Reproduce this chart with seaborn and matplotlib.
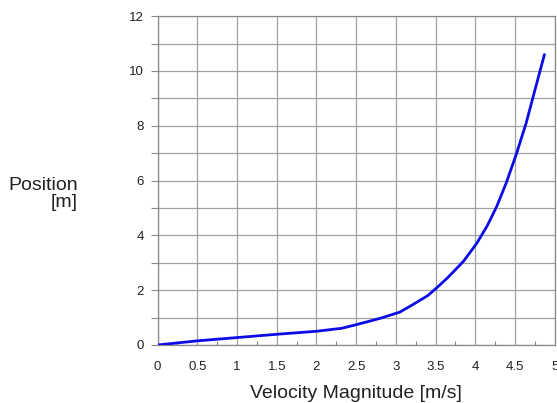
import matplotlib
matplotlib.use("Agg")
import matplotlib.pyplot as plt
import seaborn as sns
import pandas as pd
from matplotlib.ticker import MultipleLocator

velocity = [0.0, 0.5, 1.0, 1.5, 2.0, 2.32, 2.5, 2.8, 3.05, 3.2, 3.4, 3.5, 3.65, 3.85, 4.02, 4.15, 4.27, 4.39, 4.52, 4.64, 4.75, 4.87]
position = [0.0, 0.15, 0.27, 0.39, 0.5, 0.61, 0.74, 0.97, 1.2, 1.45, 1.8, 2.05, 2.45, 3.05, 3.72, 4.35, 5.06, 5.92, 7.0, 8.1, 9.3, 10.6]
x_ticks = [0, 0.5, 1, 1.5, 2, 2.5, 3, 3.5, 4, 4.5, 5]
y_ticks = [0, 2, 4, 6, 8, 10, 12]

df = pd.DataFrame({"Velocity": velocity, "Position": position})

sns.set_theme(style="white")
plt.rcParams['font.family'] = ['Liberation Sans', 'DejaVu Sans']

fig = plt.figure(figsize=(5.57, 4.03), dpi=100)
ax = fig.add_axes([0.283, 0.144, 0.713, 0.816])

sns.lineplot(data=df, x="Velocity", y="Position", ax=ax, color="#0c0ce6",
             linewidth=2.0, sort=False, zorder=3)

ax.set_xlim(0, 5)
ax.set_ylim(0, 12)
ax.set_xticks(x_ticks)
ax.set_xticklabels([f"{t:g}" for t in x_ticks])
ax.set_yticks(y_ticks)
ax.set_yticklabels([f"{t:g}" for t in y_ticks])
ax.yaxis.set_minor_locator(MultipleLocator(1))
ax.xaxis.set_minor_locator(MultipleLocator(0.25))

ax.grid(True, which="major", color="#a0a0a0", linewidth=0.9)
ax.grid(True, which="minor", axis="y", color="#a0a0a0", linewidth=0.9)
ax.tick_params(axis="both", which="major", labelsize=9.5, labelcolor="#222222")
ax.tick_params(axis="y", which="both", direction="out", length=5, color="#888888",
               left=True, width=0.8, pad=5)
ax.tick_params(axis="x", which="major", direction="out", length=0, pad=11.5)
ax.tick_params(axis="x", which="minor", direction="in", length=3, color="#888888",
               bottom=True, width=0.8)
for s in ax.spines.values():
    s.set_color("#888888")
    s.set_linewidth(0.9)

ax.set_xlabel("Velocity Magnitude [m/s]", fontsize=14, color="#222222", labelpad=9)
ax.set_ylabel("")
fig.text(0.140, 0.519, "Position\n[m]", ha="right", va="center", fontsize=14,
         color="#222222", multialignment="right", linespacing=1.02)

fig.savefig("out.png", dpi=100)
